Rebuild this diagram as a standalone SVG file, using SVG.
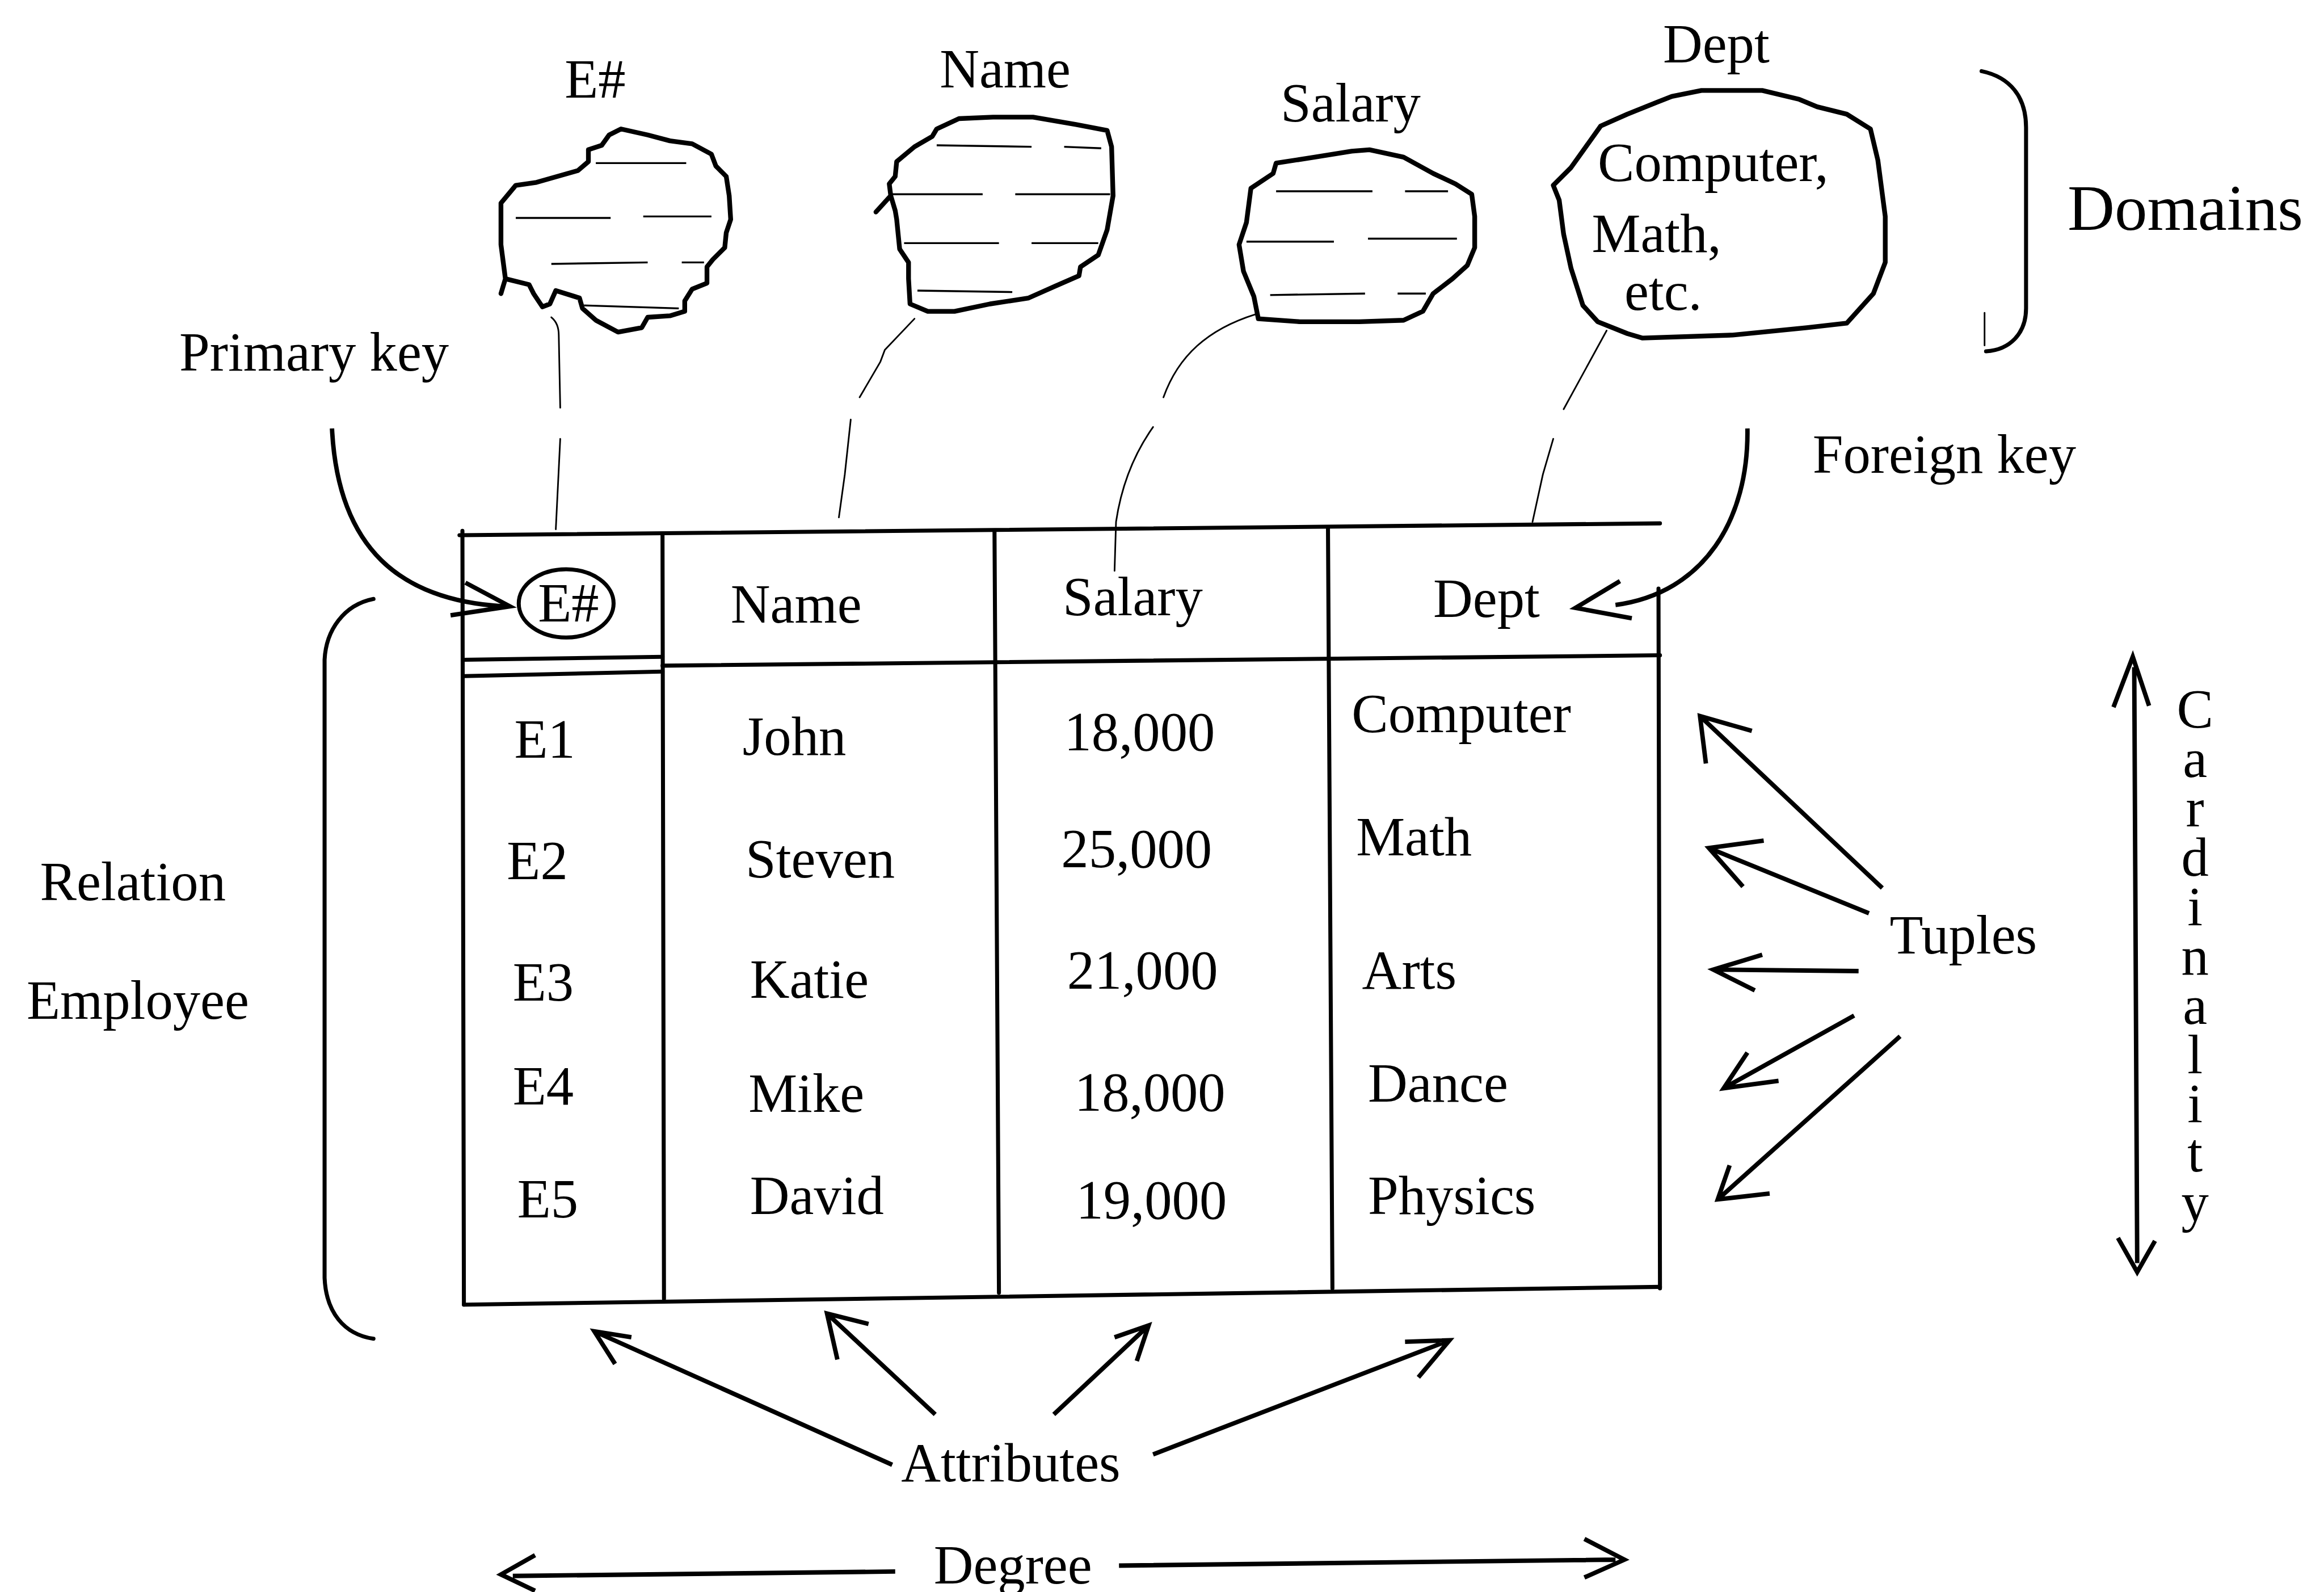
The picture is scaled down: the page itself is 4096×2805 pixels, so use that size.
<svg xmlns="http://www.w3.org/2000/svg" width="4096" height="2805" viewBox="0 0 4096 2805">
<style>
  .bg { fill: #ffffff; }
  .t { font-family: "Liberation Serif", "Times New Roman", serif; font-size: 37px; fill: #000; }
  .big { font-size: 44px; }
  .vert { writing-mode: vertical-rl; text-orientation: upright; letter-spacing: -7.7px; }
  .ln { fill: none; stroke: #000; stroke-width: 2.7; stroke-linecap: round; stroke-linejoin: round; }
  .arr { fill: none; stroke: #000; stroke-width: 3; stroke-linecap: butt; stroke-linejoin: miter; }
  .blob { fill: none; stroke: #000; stroke-width: 3.2; stroke-linejoin: round; stroke-linecap: round; }
  .hatch { fill: none; stroke: #000; stroke-width: 1.3; }
  .thin { fill: none; stroke: #000; stroke-width: 1.1; stroke-linecap: round; }
</style>
<rect class="bg" x="0" y="0" width="4096" height="2805"/>
<g transform="scale(2.6122)">

  <!-- domain blobs -->
  <g id="domain-enum">
    <text class="t" x="381" y="66">E#</text>
    <path class="blob" d="M419,87 L437,91 L452,95 L467,97 L480,104 L483,112 L490,119 L492,132 L493,148 L490,157 L489,167 L481,175 L477,180 L477,191 L467,195 L462,203 L462,210 L452,213 L437,214 L433,221 L417,224 L402,216 L393,208 L391,201 L375,196 L371,205 L366,207 L360,198 L357,192 L341,188 L338,165 L338,137 L348,125 L362,123 L390,115 L397,109 L397,101 L406,98 L411,91 Z M341,188 L338,198"/>
    <path class="hatch" d="M402,110 L463,110 M348,147 L412,147 M434,146 L480,146 M372,178 L437,177 M460,177 L475,177 M394,206 L458,208"/>
  </g>
  <g id="domain-name">
    <text class="t" x="634" y="59">Name</text>
    <path class="blob" d="M647,80 L670,79 L697,79 L726,84 L747,88 L750,99 L751,132 L747,155 L741,172 L729,180 L728,186 L712,193 L694,201 L668,205 L644,210 L626,210 L614,205 L613,188 L613,177 L607,168 L605,148 L604,142 L601,132 L600,124 L604,119 L605,109 L617,99 L629,92 L632,87 Z M601,132 L591,143"/>
    <path class="hatch" d="M632,98 L696,99 M718,99 L743,100 M602,131 L663,131 M685,131 L749,131 M610,164 L674,164 M696,164 L741,164 M619,196 L683,197"/>
  </g>
  <g id="domain-salary">
    <text class="t" x="864" y="82">Salary</text>
    <path class="blob" d="M924,101 L947,106 L967,117 L982,124 L993,131 L995,146 L995,167 L990,179 L980,188 L967,198 L960,210 L947,216 L917,217 L877,217 L849,215 L846,200 L839,183 L836,165 L841,150 L844,127 L859,117 L861,110 L887,106 L912,102 Z"/>
    <path class="hatch" d="M861,129 L926,129 M948,129 L977,129 M841,163 L900,163 M923,161 L983,161 M857,199 L921,198 M943,198 L962,198"/>
  </g>
  <g id="domain-dept">
    <text class="t" x="1122" y="42">Dept</text>
    <path class="blob" d="M1148,61 L1189,61 L1214,67 L1226,72 L1246,77 L1262,87 L1267,108 L1272,146 L1272,177 L1264,198 L1246,218 L1219,221 L1169,226 L1108,228 L1098,225 L1078,217 L1068,206 L1060,181 L1055,158 L1052,135 L1048,125 L1060,113 L1080,85 L1098,77 L1118,69 L1128,65 Z"/>
    <text class="t" x="1078" y="122">Computer,</text>
    <text class="t" x="1074" y="170">Math,</text>
    <text class="t" x="1096" y="209">etc.</text>
  </g>

  <!-- domains brace -->
  <g id="domains">
    <path class="ln" d="M1337,48 C1356,52 1367,65 1367,86 L1367,208 C1367,225 1356,236 1340,237"/>
    <path class="thin" d="M1339,211 L1339,233"/>
    <text class="t big" x="1395" y="155">Domains</text>
  </g>

  <!-- relation table -->
  <g id="relation-table">
    <path class="ln" d="M310,361 L1120,353"/>
    <path class="ln" d="M312,358 L313,880"/>
    <path class="ln" d="M313,445 L447,443 M313,456 L447,453"/>
    <path class="ln" d="M447,449 L1120,442"/>
    <path class="ln" d="M447,360 L448,876 M671,358 L674,872 M896,356 L899,869"/>
    <path class="ln" d="M1119,397 L1120,869"/>
    <path class="ln" d="M313,880 L1120,868"/>
    <ellipse class="ln" cx="382" cy="407" rx="32" ry="23"/>
    <text class="t" x="363" y="419">E#</text>
    <text class="t" x="493" y="420">Name</text>
    <text class="t" x="717" y="415">Salary</text>
    <text class="t" x="967" y="416">Dept</text>

    <text class="t" x="347" y="511">E1</text>
    <text class="t" x="342" y="593">E2</text>
    <text class="t" x="346" y="675">E3</text>
    <text class="t" x="346" y="745">E4</text>
    <text class="t" x="349" y="821">E5</text>

    <text class="t" x="501" y="509">John</text>
    <text class="t" x="503" y="592">Steven</text>
    <text class="t" x="506" y="673">Katie</text>
    <text class="t" x="505" y="750">Mike</text>
    <text class="t" x="506" y="819">David</text>

    <text class="t" x="718" y="506">18,000</text>
    <text class="t" x="716" y="585">25,000</text>
    <text class="t" x="720" y="667">21,000</text>
    <text class="t" x="725" y="749">18,000</text>
    <text class="t" x="726" y="822">19,000</text>

    <text class="t" x="912" y="494">Computer</text>
    <text class="t" x="915" y="577">Math</text>
    <text class="t" x="919" y="667">Arts</text>
    <text class="t" x="923" y="743">Dance</text>
    <text class="t" x="923" y="819">Physics</text>
  </g>

  <!-- side and bottom labels -->
  <g id="label-primary-key"><text class="t" x="121" y="250">Primary key</text></g>
  <g id="label-foreign-key"><text class="t" x="1223" y="319">Foreign key</text></g>
  <g id="label-relation">
    <text class="t" x="27" y="607">Relation</text>
    <text class="t" x="18" y="687">Employee</text>
    <path class="ln" d="M252,404 C232,408 220,425 219,445 L219,862 C220,885 232,900 252,903"/>
  </g>
  <g id="label-tuples"><text class="t" x="1275" y="643">Tuples</text></g>
  <g id="label-attributes"><text class="t" x="608" y="999">Attributes</text></g>
  <g id="label-degree"><text class="t" x="630" y="1068">Degree</text></g>
  <g id="label-cardinality">
    <!-- one word stacked upright down the side -->
    <text class="t vert" x="1481" y="458">Cardinality</text>
  </g>

  <!-- connectors -->
  <g id="connectors">
    <!-- domain to column links -->
    <path class="thin" d="M372,214 Q377,218 377,226 L378,275 M378,296 L375,357"/>
    <path class="thin" d="M617,215 L597,236 L594,244 L580,268 M574,283 L570,320 L566,349"/>
    <path class="thin" d="M847,212 C815,222 795,240 785,268 M778,288 C766,305 757,325 753,352 L752,385"/>
    <path class="thin" d="M1084,223 L1055,276 M1048,296 L1041,320 L1034,352"/>

    <!-- primary key / foreign key -->
    <path class="arr" d="M224,289 C228,370 270,405 340,409"/>
    <path class="arr" d="M314,393 L344,409 L304,415"/>
    <path class="arr" d="M1179,289 C1180,350 1150,400 1090,408"/>
    <path class="arr" d="M1093,392 L1063,410 L1101,417"/>

    <!-- tuples -->
    <path class="arr" d="M1270,599 L1147,483 M1151,515 L1147,483 L1182,493"/>
    <path class="arr" d="M1261,616 L1153,572 M1176,598 L1153,572 L1190,567"/>
    <path class="arr" d="M1254,655 L1156,654 M1184,668 L1156,654 L1189,644"/>
    <path class="arr" d="M1251,685 L1163,734 M1179,710 L1163,734 L1200,729"/>
    <path class="arr" d="M1282,699 L1159,809 M1167,786 L1159,809 L1194,805"/>

    <!-- attributes -->
    <path class="arr" d="M602,988 L401,898 M415,920 L401,898 L426,902"/>
    <path class="arr" d="M631,954 L558,886 M565,917 L558,886 L586,893"/>
    <path class="arr" d="M711,954 L775,894 M752,902 L775,894 L767,918"/>
    <path class="arr" d="M778,981 L978,904 M948,905 L978,904 L957,929"/>

    <!-- degree -->
    <path class="arr" d="M604,1060 L346,1063 M361,1049 L338,1062 L361,1073"/>
    <path class="arr" d="M755,1056 L1090,1052 M1069,1038 L1096,1052 L1069,1064"/>

    <!-- cardinality -->
    <path class="arr" d="M1440,450 L1442,852 M1426,477 L1439,443 L1450,476 M1429,835 L1442,858 L1454,837"/>
  </g>
</g>
</svg>
